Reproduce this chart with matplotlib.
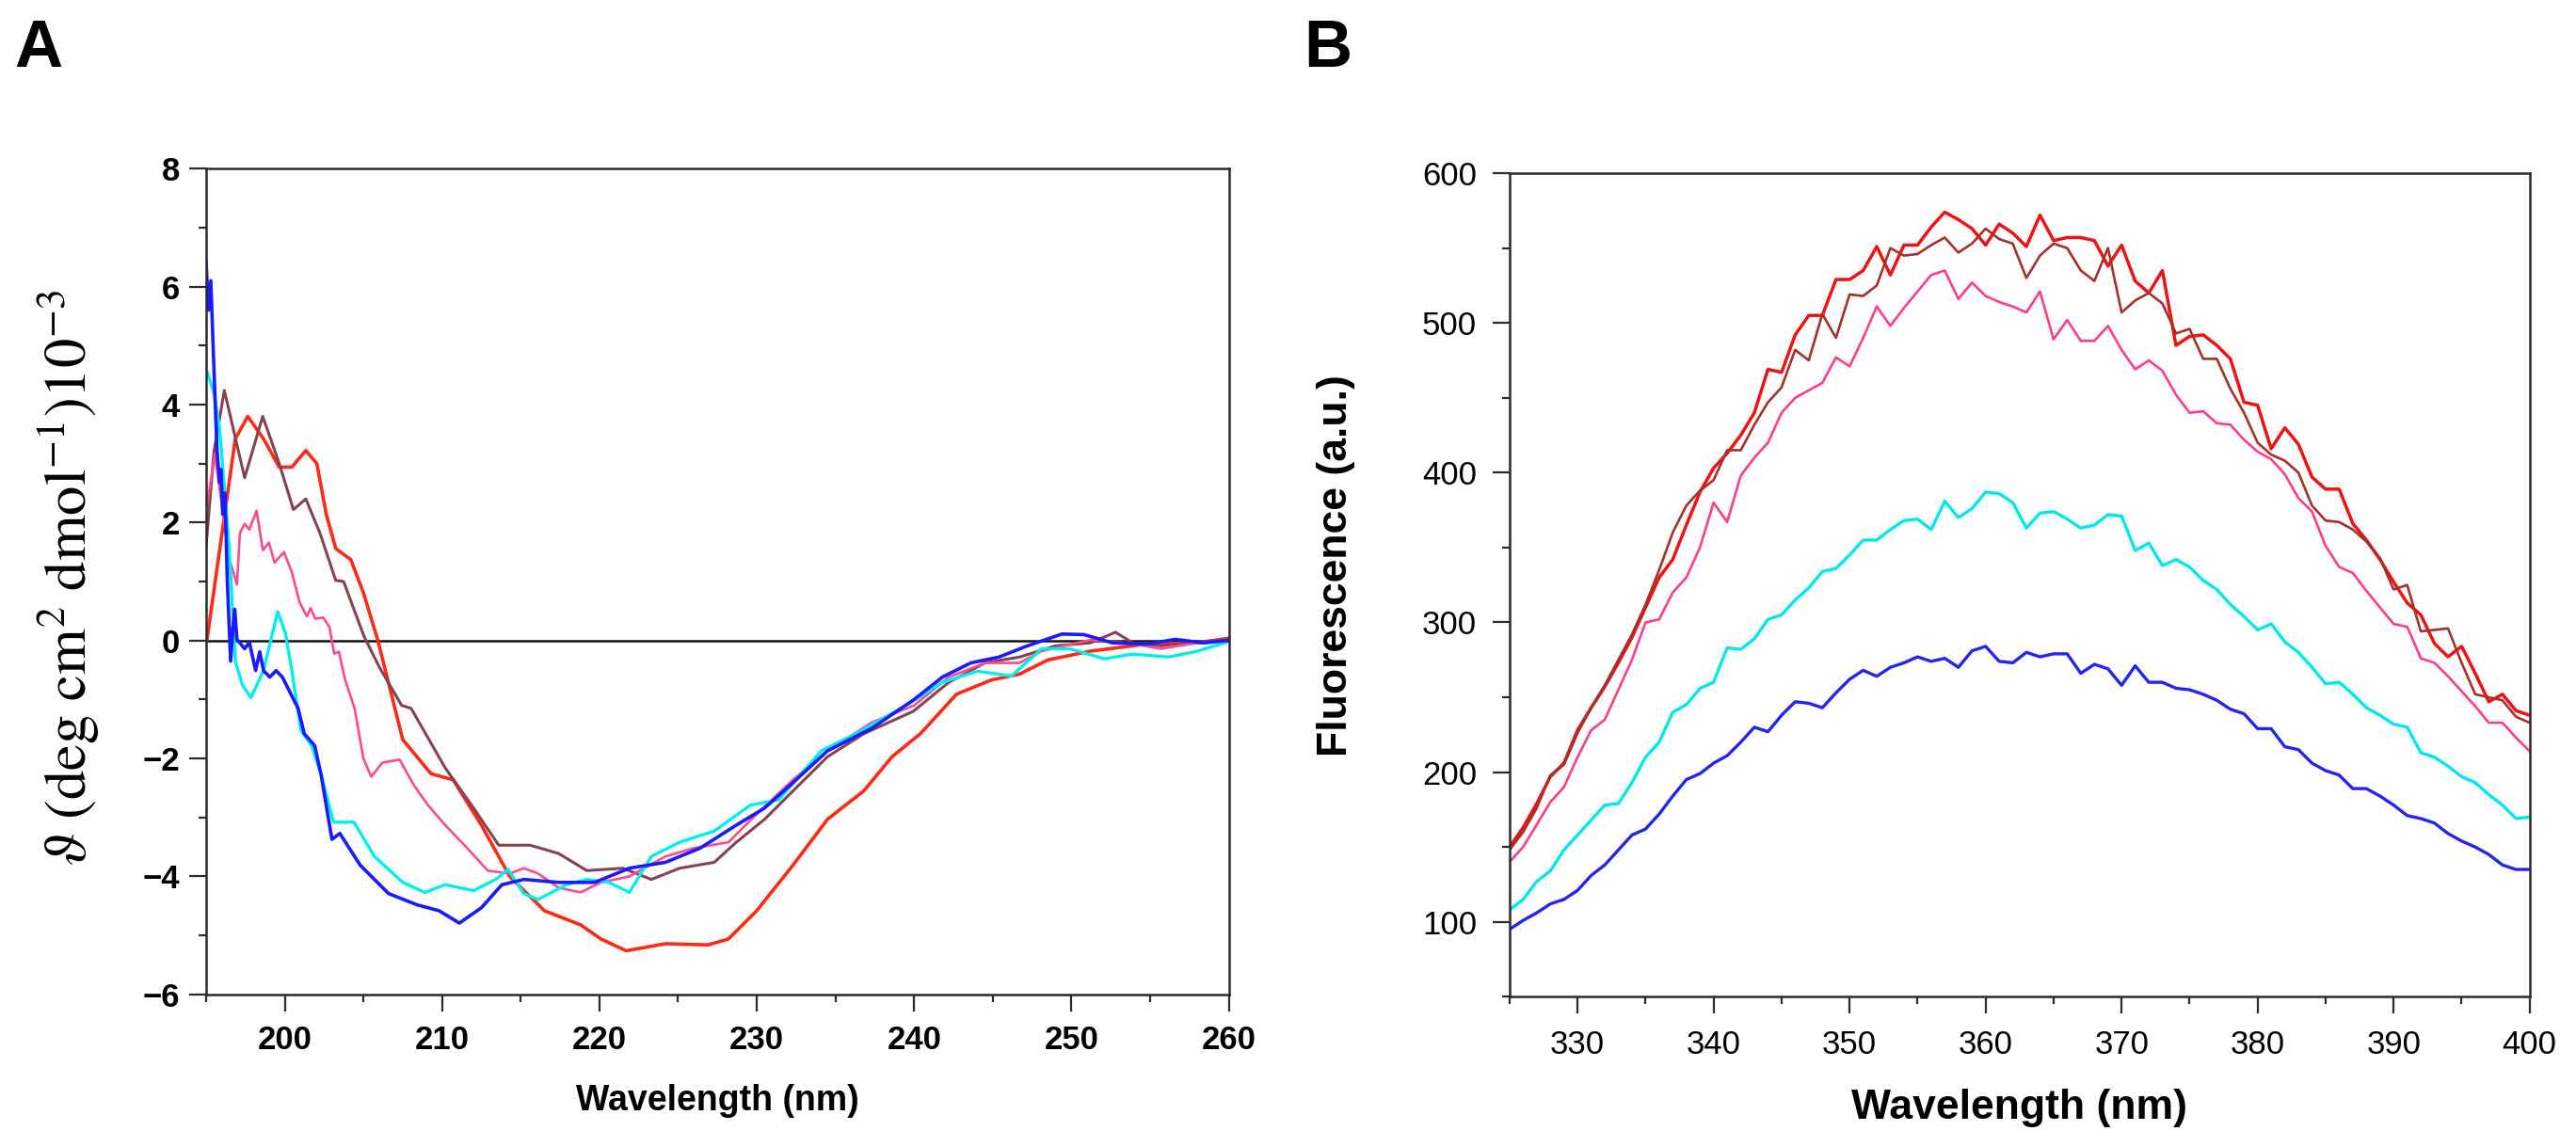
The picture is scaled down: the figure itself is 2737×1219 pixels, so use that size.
import numpy as np
import matplotlib
matplotlib.use("Agg")
import matplotlib.pyplot as plt
from matplotlib.ticker import MultipleLocator
from matplotlib import font_manager

plt.rcParams['font.family'] = ['Liberation Sans', 'DejaVu Sans']
plt.rcParams['mathtext.fontset'] = 'stix'

names = {f.name for f in font_manager.fontManager.ttflist}
narrow = 'Liberation Sans Narrow' if 'Liberation Sans Narrow' in names else 'Liberation Sans'

# ---- panel A: CD spectra (x in nm, y in deg cm2 dmol-1 x 10^-3)
a_red_x = [195.06, 196.86, 197.65, 198.65, 199.65, 200.45, 201.34, 202.04, 202.64, 203.24,
           204.2, 205.0, 205.9, 207.5, 209.3, 210.7, 212.5, 214.3, 216.5, 218.8, 220.1,
           221.7, 224.2, 226.9, 228.2, 230.0, 232.3, 234.5, 236.8, 238.6, 240.4, 242.7,
           244.9, 246.7, 248.5, 251.2, 254.8, 258.0, 260.0]
a_red_y = [0.02, 3.42, 3.80, 3.42, 2.94, 2.94, 3.22, 3.0, 2.14, 1.56,
           1.37, 0.81, 0.02, -1.68, -2.26, -2.36, -3.13, -4.0, -4.58, -4.82, -5.06,
           -5.26, -5.14, -5.16, -5.06, -4.58, -3.81, -3.03, -2.55, -1.97, -1.58, -0.91,
           -0.67, -0.57, -0.33, -0.18, -0.06, -0.04, 0.04]

a_brown_x = [195.0, 195.5, 196.16, 197.45, 198.6, 199.65, 200.55, 201.34, 202.24, 203.24,
             203.74, 205.04, 206.03, 207.43, 208.03, 210.2, 212.0, 213.6, 215.6, 217.4,
             219.2, 221.5, 223.3, 225.1, 227.3, 228.7, 230.5, 232.3, 234.5, 236.8, 239.95,
             242.2, 244.5, 246.7, 249.0, 251.2, 252.8, 253.9, 255.7, 258.0, 260.0]
a_brown_y = [1.6, 3.2, 4.24, 2.76, 3.80, 3.0, 2.22, 2.40, 1.82, 1.02,
             1.0, 0.07, -0.46, -1.10, -1.15, -2.16, -2.84, -3.47, -3.47, -3.61,
             -3.9, -3.86, -4.05, -3.86, -3.76, -3.42, -3.03, -2.55, -1.97, -1.58, -1.2,
             -0.71, -0.38, -0.28, -0.09, -0.04, 0.14, -0.04, -0.09, -0.02, 0.01]

a_pink_x = [195.06, 195.56, 196.46, 196.96, 197.15, 197.45, 197.75, 198.21, 198.61, 199.0,
            199.35, 199.95, 200.45, 200.94, 201.4, 201.64, 201.94, 202.44, 202.84, 203.14,
            203.44, 203.84, 204.44, 205.0, 205.5, 206.2, 207.3, 208.2, 209.1, 210.2, 211.6,
            212.9, 214.3, 215.2, 216.1, 217.4, 218.8, 220.1, 221.9, 224.2, 226.0, 228.2,
            230.0, 232.3, 234.5, 237.3, 240.0, 242.2, 244.5, 246.7, 248.1, 251.2, 253.5,
            255.7, 258.0, 260.0]
a_pink_y = [2.30, 3.16, 1.40, 0.95, 1.82, 1.98, 1.88, 2.20, 1.53, 1.66,
            1.32, 1.50, 1.16, 0.65, 0.41, 0.55, 0.37, 0.39, 0.23, -0.22,
            -0.19, -0.67, -1.15, -2.0, -2.31, -2.07, -2.02, -2.45, -2.79, -3.13, -3.52,
            -3.9, -3.95, -3.86, -3.95, -4.19, -4.27, -4.10, -4.0, -3.66, -3.52, -3.42,
            -2.94, -2.36, -1.87, -1.39, -1.10, -0.62, -0.38, -0.38, -0.18, 0.01, -0.04,
            -0.14, -0.04, 0.0]

a_cyan_x = [195.06, 195.5, 195.86, 196.46, 196.86, 197.3, 197.85, 198.65, 199.55, 200.04,
            200.45, 201.04, 201.7, 202.3, 203.1, 204.4, 205.7, 207.5, 208.9, 210.2, 212.0,
            213.4, 214.2, 215.2, 216.1, 217.9, 219.2, 220.6, 221.9, 223.3, 225.1, 227.3,
            229.6, 231.4, 234.1, 236.3, 239.5, 241.8, 244.0, 246.2, 248.1, 249.9, 252.1,
            253.9, 256.2, 258.0, 260.0]
a_cyan_y = [4.56, 4.2, 3.6, 1.61, -0.35, -0.75, -0.97, -0.51, 0.49, 0.13,
            -0.51, -1.53, -1.78, -2.26, -3.08, -3.08, -3.66, -4.10, -4.27, -4.14, -4.24,
            -4.05, -3.88, -4.29, -4.39, -4.14, -4.05, -4.10, -4.27, -3.66, -3.42, -3.23,
            -2.79, -2.70, -1.87, -1.58, -1.10, -0.71, -0.52, -0.60, -0.14, -0.14, -0.31,
            -0.23, -0.28, -0.18, -0.02]

a_blue_x = [195.0, 195.15, 195.3, 195.5, 195.7, 195.86, 195.95, 196.06, 196.2, 196.35,
            196.56, 196.7, 196.82, 196.96, 197.45, 197.75, 198.15, 198.41, 198.65, 199.05,
            199.45, 199.85, 200.45, 200.85, 201.24, 201.9, 202.3, 203.0, 203.5, 204.8,
            206.6, 208.4, 209.8, 211.1, 212.5, 213.8, 215.2, 217.4, 219.7, 221.9, 224.2,
            226.4, 228.7, 230.5, 232.3, 234.5, 237.3, 240.0, 241.8, 243.6, 245.4, 247.2,
            249.4, 250.8, 252.6, 254.8, 256.6, 258.4, 260.0]
a_blue_y = [6.43, 5.6, 6.1, 4.6, 3.2, 2.68, 2.9, 2.14, 2.5, 1.0,
            -0.35, 0.2, 0.53, 0.02, -0.14, -0.03, -0.51, -0.19, -0.51, -0.62,
            -0.51, -0.62, -0.94, -1.15, -1.58, -1.78, -2.26, -3.37, -3.27, -3.81,
            -4.29, -4.48, -4.58, -4.79, -4.53, -4.14, -4.05, -4.10, -4.10, -3.86, -3.76,
            -3.52, -3.13, -2.84, -2.41, -1.87, -1.49, -1.0, -0.62, -0.38, -0.28, -0.09,
            0.11, 0.10, -0.04, -0.06, 0.02, -0.04, 0.0]

# ---- panel B: fluorescence emission, 325-400 nm every 1 nm
b_wl = np.arange(325, 401)
b_red = [150, 163, 179, 197, 206, 228, 243, 257, 273, 290, 310, 330, 342, 365, 387,
         403, 413, 425, 440, 469, 467, 492, 505, 505, 529, 529, 535, 551, 532, 552,
         552, 564, 574, 569, 563, 552, 566, 560, 551, 572, 555, 557, 557, 555, 538,
         552, 528, 520, 535, 485, 491, 492, 485, 476, 447, 445, 416, 430, 419, 397,
         389, 389, 366, 355, 342, 327, 313, 305, 286, 277, 284, 266, 247, 252, 241, 238]
b_brown = [148, 160, 176, 198, 205, 226, 243, 258, 275, 292, 312, 335, 360, 378, 388,
           395, 415, 415, 432, 447, 457, 482, 475, 506, 490, 519, 518, 525, 550, 545,
           546, 552, 557, 547, 553, 563, 556, 553, 530, 545, 553, 550, 535, 528, 550,
           507, 515, 520, 513, 493, 496, 476, 476, 456, 440, 420, 412, 408, 400, 378,
           368, 367, 362, 354, 343, 322, 325, 294, 295, 296, 273, 252, 250, 248, 237, 233]
b_pink = [140, 150, 165, 180, 190, 210, 228, 235, 255, 275, 300, 302, 320, 330, 350,
          380, 367, 398, 410, 420, 440, 450, 455, 460, 477, 471, 490, 511, 498, 510,
          521, 532, 535, 516, 527, 518, 514, 511, 507, 521, 489, 502, 488, 488, 498,
          482, 469, 475, 468, 452, 440, 441, 433, 432, 422, 414, 409, 399, 383, 374,
          351, 337, 333, 321, 310, 299, 297, 276, 273, 264, 254, 244, 233, 233, 223, 214]
b_cyan = [108, 115, 127, 134, 148, 158, 168, 178, 179, 193, 210, 220, 240, 245, 256,
          260, 283, 282, 289, 302, 305, 315, 323, 334, 336, 345, 355, 355, 362, 368,
          369, 362, 381, 370, 376, 387, 386, 380, 363, 373, 374, 369, 363, 365, 372,
          371, 348, 353, 338, 342, 337, 328, 322, 312, 304, 295, 299, 287, 280, 270,
          259, 260, 252, 243, 238, 232, 230, 213, 210, 204, 197, 193, 185, 178, 169, 170]
b_blue = [95, 101, 106, 112, 115, 121, 131, 138, 148, 158, 162, 172, 184, 195, 199,
          206, 211, 220, 230, 227, 238, 247, 246, 243, 253, 262, 268, 264, 270, 273,
          277, 274, 276, 270, 281, 284, 274, 273, 280, 277, 279, 279, 266, 272, 269,
          258, 271, 260, 260, 256, 255, 252, 248, 242, 239, 229, 229, 217, 215, 206,
          201, 198, 189, 189, 184, 178, 171, 169, 166, 159, 154, 150, 145, 138, 135, 135]

fig = plt.figure(figsize=(27.37, 12.19), dpi=100)
axA = fig.add_axes([0.080, 0.133, 0.397, 0.720])
axB = fig.add_axes([0.586, 0.131, 0.396, 0.718])

spine_c = '#2b2b2b'
lw = 2.2
axA.axhline(0, color='#111111', lw=1.8, zorder=1)
axA.plot(a_red_x, a_red_y, color='#ff2a14', lw=lw + 0.4)
axA.plot(a_brown_x, a_brown_y, color='#85424f', lw=lw)
axA.plot(a_pink_x, a_pink_y, color='#ff4a90', lw=lw - 0.3)
axA.plot(a_cyan_x, a_cyan_y, color='#00eef0', lw=lw + 0.2)
axA.plot(a_blue_x, a_blue_y, color='#1a1aff', lw=lw + 0.4)

axB.plot(b_wl, b_red, color='#f01212', lw=lw + 0.3)
axB.plot(b_wl, b_brown, color='#a3322c', lw=lw - 0.3)
axB.plot(b_wl, b_pink, color='#ff3d8b', lw=lw - 0.3)
axB.plot(b_wl, b_cyan, color='#00e8ee', lw=lw + 0.2)
axB.plot(b_wl, b_blue, color='#2424ee', lw=lw + 0.2)

axA.set_xlim(195, 260)
axA.set_ylim(-6, 8)
axA.xaxis.set_major_locator(MultipleLocator(10))
axA.xaxis.set_minor_locator(MultipleLocator(5))
axA.yaxis.set_major_locator(MultipleLocator(2))
axA.yaxis.set_minor_locator(MultipleLocator(1))

axB.set_xlim(325, 400)
axB.set_ylim(50, 600)
axB.xaxis.set_major_locator(MultipleLocator(10))
axB.xaxis.set_minor_locator(MultipleLocator(5))
axB.yaxis.set_major_locator(MultipleLocator(100))
axB.yaxis.set_minor_locator(MultipleLocator(50))

for ax in (axA, axB):
    for s in ax.spines.values():
        s.set_color(spine_c)
        s.set_linewidth(1.8)
    ax.tick_params(which='both', direction='out', color=spine_c, width=1.6)
    ax.tick_params(which='major', length=13)
    ax.tick_params(which='minor', length=6)

axA.tick_params(axis='y', which='major', pad=7, labelsize=25)
axA.tick_params(axis='x', which='major', pad=10, labelsize=25)
for t in axA.get_xticklabels() + axA.get_yticklabels():
    t.set_fontweight('bold')
axB.tick_params(axis='y', which='major', pad=12, labelsize=25)
axB.tick_params(axis='x', which='major', pad=12, labelsize=25)

axA.set_xlabel('Wavelength (nm)', fontsize=27, fontweight='bold', va='center')
axA.xaxis.set_label_coords(0.5, -0.129)
axA.set_ylabel(r'$\vartheta\ \mathrm{(deg\ cm^{2}\ dmol^{-1})10^{-3}}$',
               fontsize=45, va='center')
axA.yaxis.set_label_coords(-0.135, 0.505)

axB.set_xlabel('Wavelength (nm)', fontsize=32, fontweight='bold', va='center')
axB.xaxis.set_label_coords(0.5, -0.135)
axB.set_ylabel('Fluorescence (a.u.)', fontsize=32, fontweight='bold', va='center')
axB.yaxis.set_label_coords(-0.170, 0.523)

fig.text(0.0055, 0.984, 'A', fontsize=51, fontweight='bold', family=narrow, va='top')
fig.text(0.506, 0.984, 'B', fontsize=51, fontweight='bold', family=narrow, va='top')

fig.savefig('out.png', dpi=100, facecolor='white')
